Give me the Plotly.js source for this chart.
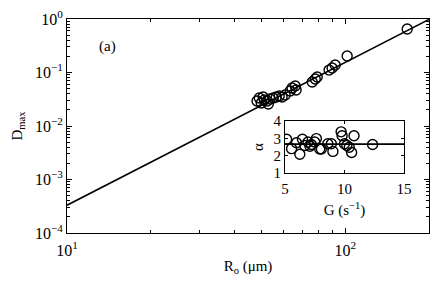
<!DOCTYPE html>
<html>
<head>
<meta charset="utf-8">
<script src="https://cdn.plot.ly/plotly-3.0.1.min.js"></script>
<style>html,body{margin:0;padding:0;background:#fff}</style>
</head>
<body>
<div id="chart" style="width:436px;height:284px"></div>
<script>
// Main panel: maximum deformation vs drop radius
const radius = [48.2, 49.1, 49.9, 50.7, 51.2, 52.4, 52.9, 53.7, 55.1, 56.5, 57.9, 59.3, 60.8, 63.4, 64.4, 66.1, 66.6, 76.1, 78.0, 79.3, 87.5, 89.7, 92.0, 101.6, 167];
const dmax   = [0.0293, 0.0334, 0.0269, 0.0348, 0.0306, 0.0293, 0.0258, 0.0320, 0.0334, 0.0348, 0.0364, 0.0348, 0.0380, 0.0451, 0.0513, 0.0560, 0.0471, 0.0664, 0.0756, 0.0825, 0.111, 0.121, 0.138, 0.203, 0.650];
// Power-law fit line endpoints
const fitR = [10, 200];
const fitD = [3.3e-4, 0.98];
// Inset: exponent alpha vs shear rate G
const shearG = [5.14, 5.56, 5.97, 6.25, 6.47, 6.67, 6.94, 7.1, 7.22, 7.5, 7.64, 7.92, 8.06, 8.6, 8.9, 9.03, 9.72, 9.8, 10.0, 10.2, 10.4, 10.6, 10.8, 12.36];
const alpha  = [2.95, 2.41, 2.75, 2.09, 2.95, 2.59, 2.79, 2.55, 2.65, 2.79, 2.99, 2.39, 2.39, 2.69, 2.69, 2.25, 3.38, 3.15, 2.69, 2.59, 2.49, 2.19, 3.15, 2.65];
const meanLineG = [5, 15];
const meanAlpha = [2.67, 2.67];
// Tick labels
const xTickVals = [10, 100];
const xTickText = ['10<sup>1</sup>', '10<sup>2</sup>'];
const yTickVals = [1e-4, 1e-3, 1e-2, 1e-1, 1];
const yTickText = ['10<sup>−4</sup>', '10<sup>−3</sup>', '10<sup>−2</sup>', '10<sup>−1</sup>', '10<sup>0</sup>'];
const gTickVals = [5, 10, 15];
const aTickVals = [1, 2, 3, 4];

const font = {family: 'Liberation Serif, Times New Roman, serif', size: 15, color: '#000'};
const tickFont = {family: 'Liberation Serif, Times New Roman, serif', size: 16, color: '#000'};
const mk = {symbol: 'circle-open', size: 10, color: '#000', line: {width: 1.4, color: '#000'}};

const traces = [
  {x: fitR, y: fitD, mode: 'lines', line: {color: '#000', width: 1.6}, xaxis: 'x', yaxis: 'y', hoverinfo: 'skip'},
  {x: radius, y: dmax, mode: 'markers', marker: mk, xaxis: 'x', yaxis: 'y'},
  {x: meanLineG, y: meanAlpha, mode: 'lines', line: {color: '#000', width: 1.6}, xaxis: 'x2', yaxis: 'y2'},
  {x: shearG, y: alpha, mode: 'markers', marker: mk, xaxis: 'x2', yaxis: 'y2'}
];

const axBase = {showline: true, linecolor: '#000', linewidth: 1, mirror: 'ticks', ticks: 'inside', tickcolor: '#000', showgrid: false, zeroline: false, tickfont: tickFont};

const layout = {
  width: 436, height: 284,
  margin: {l: 67, r: 7, t: 19, b: 51},
  paper_bgcolor: '#fff', plot_bgcolor: '#fff',
  showlegend: false,
  font: font,
  xaxis: Object.assign({}, axBase, {
    type: 'log', range: [1, Math.log10(200)], tickvals: xTickVals, ticktext: xTickText, ticklen: 5, ticklabelstandoff: 3,
    minor: {ticks: 'inside', ticklen: 3, tickcolor: '#000', showgrid: false, dtick: 'D1'},
    title: {text: 'R<sub>o</sub> (μm)', font: font, standoff: 2}
  }),
  yaxis: Object.assign({}, axBase, {
    type: 'log', range: [-4, 0], tickvals: yTickVals, ticktext: yTickText, ticklen: 5,
    minor: {ticks: 'inside', ticklen: 3, tickcolor: '#000', showgrid: false, dtick: 'D1'},
    title: {text: 'D<sub>max</sub>', font: font, standoff: 8}
  }),
  xaxis2: Object.assign({}, axBase, {
    domain: [0.602, 0.931], anchor: 'y2', range: [5, 15], tickvals: gTickVals, ticklen: 3, tickfont: font, ticklabelstandoff: 2,
    title: {text: 'G (s<sup>−1</sup>)', font: font, standoff: 8}
  }),
  yaxis2: Object.assign({}, axBase, {
    domain: [0.28, 0.523], anchor: 'x2', range: [1, 4], tickvals: aTickVals, ticklen: 3, tickfont: font,
    title: {text: 'α', font: font, standoff: 6}
  }),
  annotations: [
    {text: '(a)', xref: 'paper', yref: 'paper', x: 0.083, y: 0.87, xanchor: 'left', yanchor: 'middle', showarrow: false, font: font}
  ]
};

Plotly.newPlot('chart', traces, layout, {displayModeBar: false, staticPlot: true});
</script>
</body>
</html>
